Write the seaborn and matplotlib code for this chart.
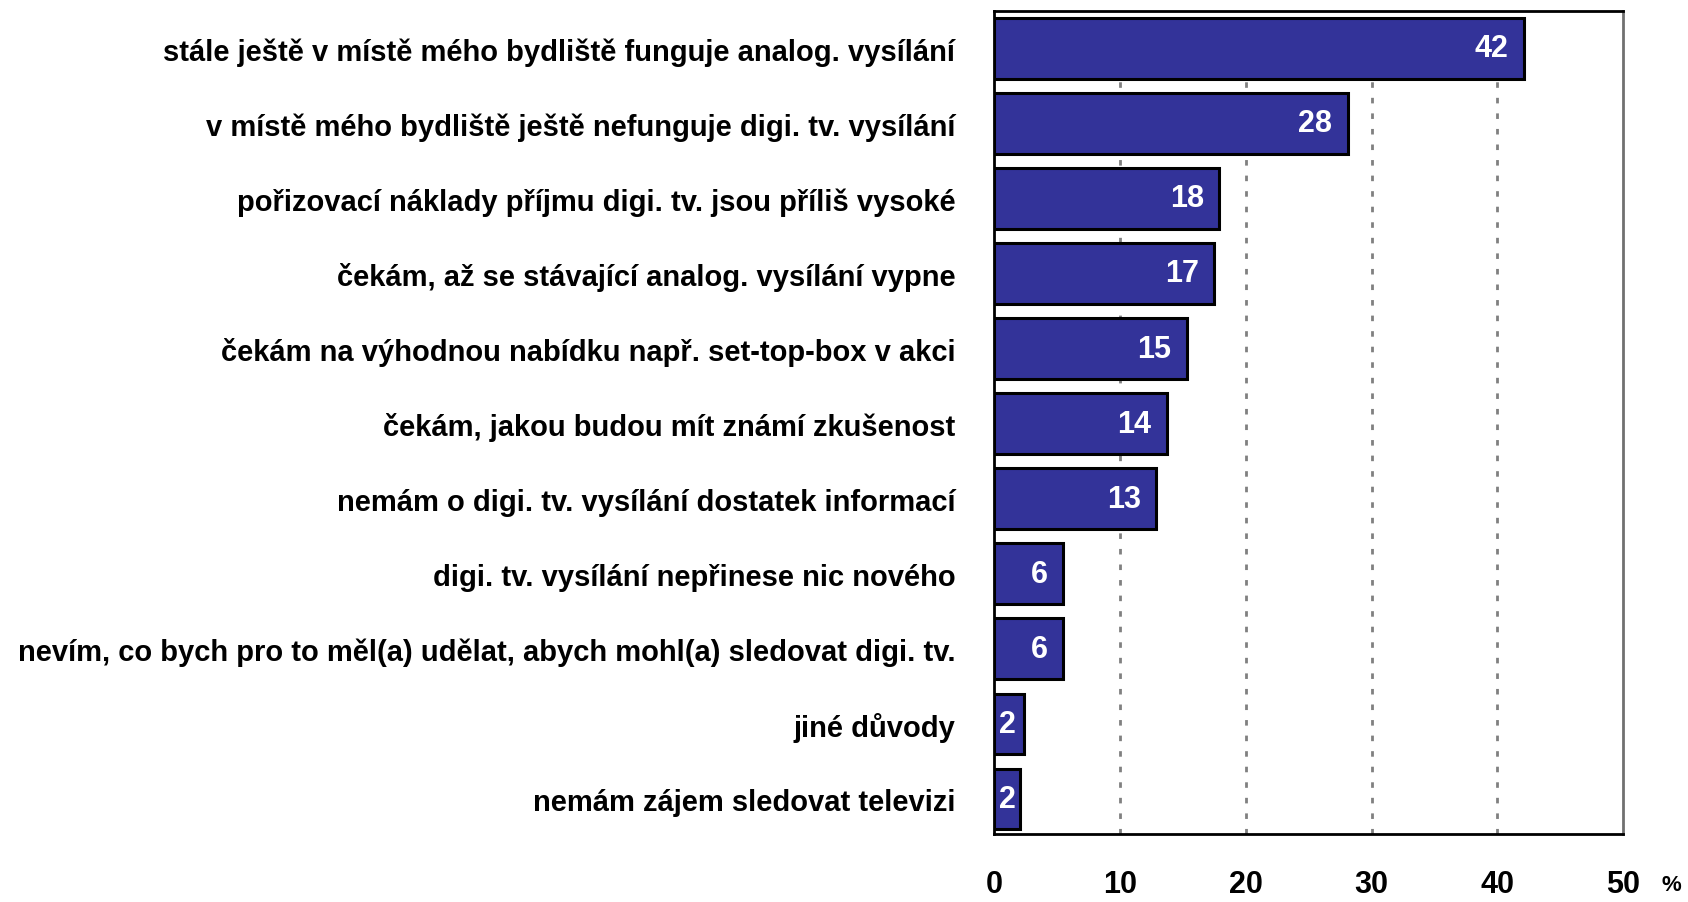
import numpy as np
import pandas as pd
import matplotlib
matplotlib.use("Agg")
import matplotlib.pyplot as plt
import seaborn as sns

sns.set_style("white")
plt.rcParams["font.family"] = ["Liberation Sans", "DejaVu Sans"]
plt.rcParams["text.color"] = "black"
plt.rcParams["xtick.color"] = "black"
plt.rcParams["ytick.color"] = "black"

reasons = [
    "stále ještě v místě mého bydliště funguje analog. vysílání",
    "v místě mého bydliště ještě nefunguje digi. tv. vysílání",
    "pořizovací náklady příjmu digi. tv. jsou příliš vysoké",
    "čekám, až se stávající analog. vysílání vypne",
    "čekám na výhodnou nabídku např. set-top-box v akci",
    "čekám, jakou budou mít známí zkušenost",
    "nemám o digi. tv. vysílání dostatek informací",
    "digi. tv. vysílání nepřinese nic nového",
    "nevím, co bych pro to měl(a) udělat, abych mohl(a) sledovat digi. tv.",
    "jiné důvody",
    "nemám zájem sledovat televizi",
]
shares = [42.1, 28.1, 17.9, 17.5, 15.3, 13.7, 12.9, 5.5, 5.5, 2.4, 2.05]
share_labels = ["42", "28", "18", "17", "15", "14", "13", "6", "6", "2", "2"]
xticks = [0, 10, 20, 30, 40, 50]

df = pd.DataFrame({"reason": reasons, "share": shares})

fig = plt.figure(figsize=(16.88, 9.03), dpi=100)
ax = fig.add_axes([0.589, 0.075, 0.3725, 0.912])

sns.barplot(data=df, x="share", y="reason", orient="h", color="#333399",
            saturation=1, edgecolor="black", linewidth=2.2, width=0.81, ax=ax)

ax.set_xlim(0, 50)
ax.set_ylim(10.47, -0.5)
ax.set_xticks(xticks)
ax.set_xticklabels([str(t) for t in xticks], fontsize=22, fontweight="bold")
ax.set_xlabel("")
ax.set_ylabel("")
for lbl in ax.get_yticklabels():
    lbl.set_fontsize(21)
    lbl.set_fontweight("bold")
ax.tick_params(axis="y", length=0, pad=28)
ax.tick_params(axis="x", direction="out", length=11, width=2, pad=14)

for x in xticks[1:-1]:
    ax.axvline(x, color="#808080", linewidth=2, linestyle=(0, (2, 3.6)), zorder=0)

for side in ["left", "bottom", "top", "right"]:
    ax.spines[side].set_visible(True)
    ax.spines[side].set_color("black")
    ax.spines[side].set_linewidth(2)
ax.spines["right"].set_color("#707070")

for i, (v, t) in enumerate(zip(shares, share_labels)):
    ax.annotate(t, xy=(max(v, 2.9), i), xytext=(-11, 0), textcoords="offset points",
                ha="right", va="center", color="white", fontsize=22, fontweight="bold")

ax.annotate("%", xy=(50, 0), xycoords=("data", "axes fraction"), xytext=(38, -56),
            textcoords="offset pixels", ha="left", va="baseline", fontsize=16, fontweight="bold")

fig.savefig("out.png", dpi=100)
